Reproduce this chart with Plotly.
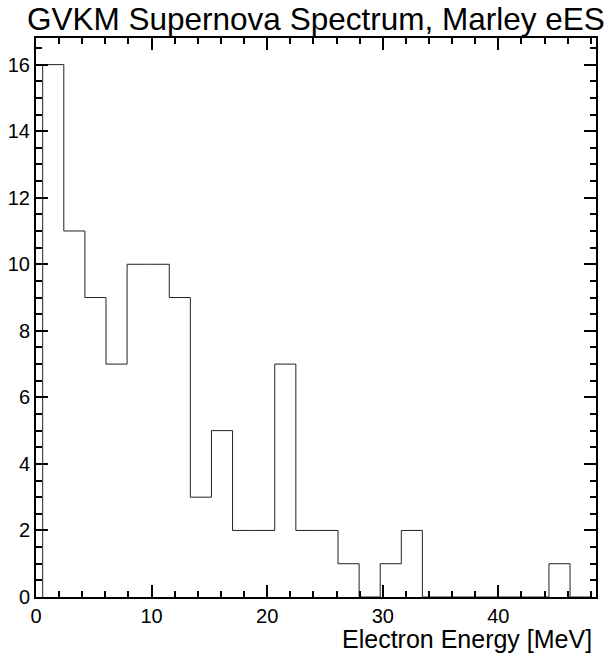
import plotly.graph_objects as go

# Histogram binning (MeV) and bin contents
bin_start = 0.58
bin_width = 1.825
counts = [16, 11, 9, 7, 10, 10, 9, 3, 5, 2, 2, 7, 2, 2, 1, 0, 1, 2,
          0, 0, 0, 0, 0, 0, 1, 0]

x_range = [0, 48.45]
y_range = [0, 16.8]

title_text = "GVKM Supernova Spectrum, Marley eES"
x_title = "Electron Energy [MeV]"

edges = [bin_start + i * bin_width for i in range(len(counts) + 1)]

# Step outline: start at baseline, one point per bin, back to baseline
xs = [edges[0]] + edges[:-1] + [edges[-1]]
ys = [0] + counts + [0]

font = "Liberation Sans, Arial, Helvetica, sans-serif"

fig = go.Figure()
fig.add_trace(go.Scatter(
    x=xs, y=ys, mode="lines", line_shape="hv",
    line=dict(color="#222222", width=1), hoverinfo="skip", showlegend=False,
))

axis_common = dict(
    tickmode="linear", tick0=0,
    showgrid=False, zeroline=False, showline=True, linecolor="black",
    linewidth=2, mirror="ticks", ticks="inside", tickcolor="black",
    tickwidth=1.6, ticklen=12,
    tickfont=dict(family=font, size=20, color="black"),
)

fig.update_xaxes(
    range=x_range, dtick=10,
    minor=dict(ticks="inside", dtick=2, ticklen=6,
               tickcolor="black", tickwidth=1.6, showgrid=False),
    **axis_common,
)
fig.update_yaxes(
    range=y_range, dtick=2,
    minor=dict(ticks="inside", dtick=0.5, ticklen=6,
               tickcolor="black", tickwidth=1.6, showgrid=False),
    **axis_common,
)

fig.update_layout(
    width=606, height=654,
    margin=dict(l=36, r=8, t=38, b=57),
    paper_bgcolor="white", plot_bgcolor="white",
    annotations=[
        dict(text=title_text, x=0.5, xref="paper", xanchor="center",
             y=1, yref="paper", yanchor="bottom", yshift=-1, showarrow=False,
             font=dict(family=font, size=31.5, color="black")),
        dict(text=x_title, x=1, xref="paper", xanchor="right",
             y=0, yref="paper", yanchor="top", yshift=-26, xshift=-2,
             showarrow=False,
             font=dict(family=font, size=25, color="black")),
    ],
)

fig.write_html("out.html")
